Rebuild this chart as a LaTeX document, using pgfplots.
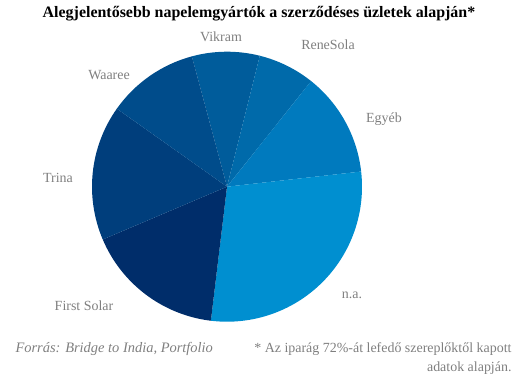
\documentclass[border=0pt]{standalone}
\usepackage{pgfplots}
\pgfplotsset{compat=1.18}
\usepackage{fontspec}
\setmainfont{Liberation Serif}
\definecolor{cVik}{HTML}{005C9B}
\definecolor{cRen}{HTML}{006AAA}
\definecolor{cEgy}{HTML}{007ABE}
\definecolor{cNa}{HTML}{008FD0}
\definecolor{cFS}{HTML}{002D6A}
\definecolor{cTri}{HTML}{003E7C}
\definecolor{cWaa}{HTML}{004C8B}
\definecolor{lblgray}{HTML}{7F7F7F}
\begin{document}
\begin{tikzpicture}
\begin{axis}[x=1bp, y=1bp, xmin=0, xmax=523, ymin=0, ymax=378,
  hide axis, scale only axis, clip=false]
\path (axis cs:0,0) rectangle (axis cs:523,378);
% slice values in percent, clockwise from Vikram
\foreach \v/\c [remember=\b as \a (initially 105.1)] in {8.1/cVik, 6.8/cRen, 12.5/cEgy, 28.7/cNa, 16.7/cFS, 16.2/cTri, 11.0/cWaa} {
  \pgfmathsetmacro\b{\a-3.6*\v}
  \edef\temp{\noexpand\fill[\c] (axis cs:227,191.3) -- ++(\a:135bp) arc[start angle=\a, end angle=\b, radius=135bp] -- cycle;}
  \temp
}
\begin{scope}[every node/.style={text=lblgray, font=\fontsize{14}{16}\selectfont}]
\node at (axis cs:221,341) {Vikram};
\node at (axis cs:328,333) {ReneSola};
\node at (axis cs:109,303) {Waaree};
\node at (axis cs:384,259) {Egyéb};
\node at (axis cs:58,200) {Trina};
\node at (axis cs:84,72) {First Solar};
\node at (axis cs:352,83) {n.a.};
\end{scope}
\node[anchor=base, font=\bfseries\fontsize{16}{18}\selectfont] at (axis cs:259,361) {Alegjelentősebb napelemgyártók a szerződéses üzletek alapján*};
\node[anchor=base west, text=lblgray, font=\itshape\fontsize{14.5}{16}\selectfont] at (axis cs:12,26) {Forrás: Bridge to India, Portfolio};
\node[anchor=base east, text=lblgray, font=\fontsize{14}{16}\selectfont] at (axis cs:515,26) {* Az iparág 72\%-át lefedő szereplőktől kapott};
\node[anchor=base east, text=lblgray, font=\fontsize{14}{16}\selectfont] at (axis cs:515,7) {adatok alapján.};
\end{axis}
\end{tikzpicture}
\end{document}
